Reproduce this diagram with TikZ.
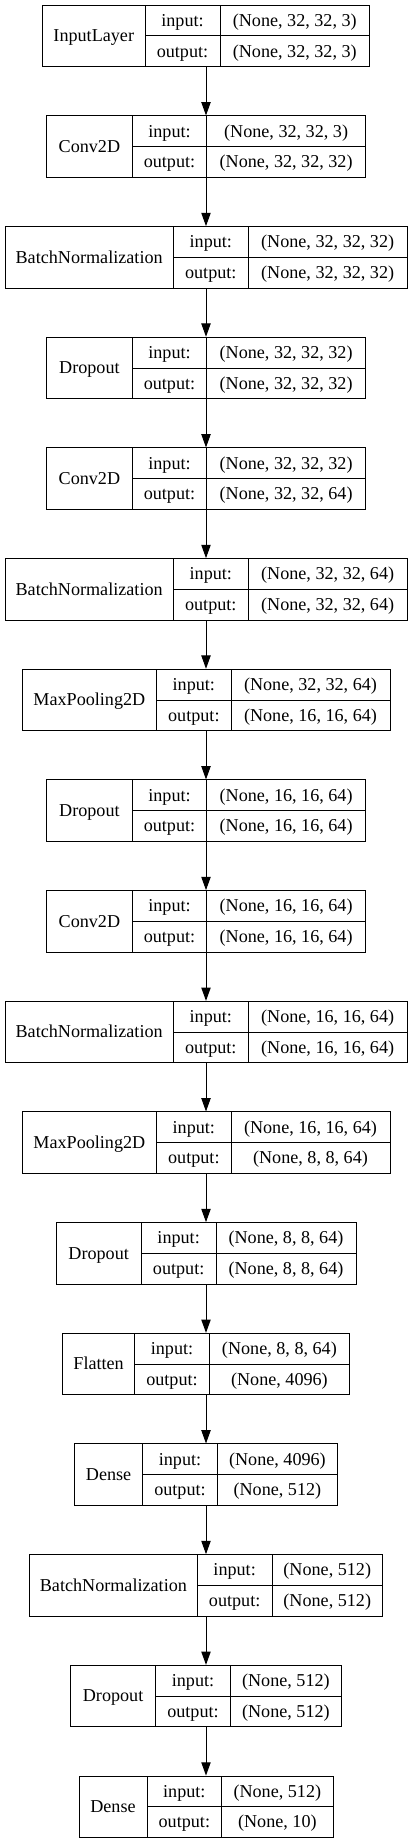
\documentclass[tikz,border=0pt]{standalone}
\usepackage{fontspec}
\setmainfont{Liberation Serif}
\usepackage{tikz}
\usetikzlibrary{arrows.meta}
\usetikzlibrary{positioning}
\tikzset{>=latex}
\tikzstyle{layer} = [draw, rectangle, inner sep=0, minimum height=46.1pt, line width=0.75pt]
\tikzstyle{cell} = [draw=none, inner sep=0, text height=10.4pt, text depth=1.8pt]
\tikzstyle{rule} = [line width=0.75pt]
\tikzstyle{flow} = [-{Triangle[length=10pt, width=7pt]}, line width=0.75pt]

% #1 node name, #2 width, #3 #4 column lines, #5 centre y, #6 class, #7 input, #8 output
\newcommand{\kerasrec}[8]{%
  \node [layer, minimum width={#2*0.75pt}] (#1) at (206, #5) {};
  \draw [rule] (#3, {#5-30.75}) -- (#3, {#5+30.75});
  \draw [rule] (#4, {#5-30.75}) -- (#4, {#5+30.75});
  \draw [rule] (#3, #5) -- ({206+#2/2}, #5);
  \node [cell] (#1-name) at ({(206-#2/2+#3)/2}, #5) {#6};
  \node [cell] (#1-inl) at ({(#3+#4)/2}, {#5-15.4}) {input:};
  \node [cell] (#1-outl) at ({(#3+#4)/2}, {#5+15.4}) {output:};
  \node [cell] (#1-in) at ({(#4+206+#2/2)/2}, {#5-15.4}) {#7};
  \node [cell] (#1-out) at ({(#4+206+#2/2)/2}, {#5+15.4}) {#8};
}

\begin{document}
\begin{tikzpicture}[x=0.75pt, y=-0.75pt, font=\fontsize{13.6pt}{16pt}\selectfont]
\useasboundingbox (0,0) rectangle (412,1844);
%\fill[white] (0,0) rectangle (412,1844);
\kerasrec{input}{327}{145}{220}{36.0}{InputLayer}{(None, 32, 32, 3)}{(None, 32, 32, 3)}
\kerasrec{conv1}{319}{132.3}{206.7}{146.7}{Conv2D}{(None, 32, 32, 3)}{(None, 32, 32, 32)}
\kerasrec{bn1}{402}{173.3}{248.3}{257.4}{BatchNormalization}{(None, 32, 32, 32)}{(None, 32, 32, 32)}
\kerasrec{drop1}{319}{132.3}{206.7}{368.0}{Dropout}{(None, 32, 32, 32)}{(None, 32, 32, 32)}
\kerasrec{conv2}{319}{132.3}{206.7}{478.7}{Conv2D}{(None, 32, 32, 32)}{(None, 32, 32, 64)}
\kerasrec{bn2}{402}{173.3}{248.3}{589.4}{BatchNormalization}{(None, 32, 32, 64)}{(None, 32, 32, 64)}
\kerasrec{pool1}{368}{156.7}{231}{700.0}{MaxPooling2D}{(None, 32, 32, 64)}{(None, 16, 16, 64)}
\kerasrec{drop2}{319}{132.3}{206.7}{810.7}{Dropout}{(None, 16, 16, 64)}{(None, 16, 16, 64)}
\kerasrec{conv3}{319}{132.3}{206.7}{921.4}{Conv2D}{(None, 16, 16, 64)}{(None, 16, 16, 64)}
\kerasrec{bn3}{402}{173.3}{248.3}{1032.1}{BatchNormalization}{(None, 16, 16, 64)}{(None, 16, 16, 64)}
\kerasrec{pool2}{368}{156.7}{231}{1142.7}{MaxPooling2D}{(None, 16, 16, 64)}{(None, 8, 8, 64)}
\kerasrec{drop3}{300}{141.3}{216}{1253.4}{Dropout}{(None, 8, 8, 64)}{(None, 8, 8, 64)}
\kerasrec{flat}{287}{134.7}{209.3}{1364.1}{Flatten}{(None, 8, 8, 64)}{(None, 4096)}
\kerasrec{dense1}{263}{142.7}{217.3}{1474.7}{Dense}{(None, 4096)}{(None, 512)}
\kerasrec{bn4}{353}{197.3}{272}{1585.4}{BatchNormalization}{(None, 512)}{(None, 512)}
\kerasrec{drop4}{271}{155.7}{230.3}{1696.1}{Dropout}{(None, 512)}{(None, 512)}
\kerasrec{dense2}{254}{147}{221.7}{1806.8}{Dense}{(None, 512)}{(None, 10)}
\draw [flow] (input) -- (conv1);
\draw [flow] (conv1) -- (bn1);
\draw [flow] (bn1) -- (drop1);
\draw [flow] (drop1) -- (conv2);
\draw [flow] (conv2) -- (bn2);
\draw [flow] (bn2) -- (pool1);
\draw [flow] (pool1) -- (drop2);
\draw [flow] (drop2) -- (conv3);
\draw [flow] (conv3) -- (bn3);
\draw [flow] (bn3) -- (pool2);
\draw [flow] (pool2) -- (drop3);
\draw [flow] (drop3) -- (flat);
\draw [flow] (flat) -- (dense1);
\draw [flow] (dense1) -- (bn4);
\draw [flow] (bn4) -- (drop4);
\draw [flow] (drop4) -- (dense2);
\end{tikzpicture}
\end{document}
